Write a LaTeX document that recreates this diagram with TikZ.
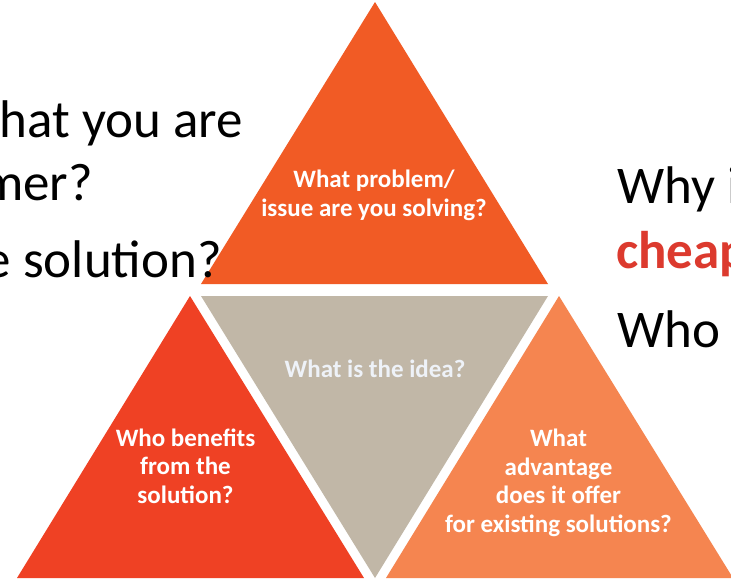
\documentclass[tikz,border=0pt]{standalone}
\usepackage{fontspec}
\setmainfont{Carlito}
\definecolor{topc}{RGB}{241,91,37}
\definecolor{leftc}{RGB}{239,65,36}
\definecolor{midc}{RGB}{193,183,167}
\definecolor{rightc}{RGB}{245,133,80}
\definecolor{redtxt}{RGB}{220,58,46}
\definecolor{idea}{RGB}{238,242,248}
\begin{document}
\begin{tikzpicture}[x=1pt,y=-1pt,
  lbl/.style={text=white,font=\bfseries\fontsize{25}{28.5}\selectfont,align=center,inner sep=0pt},
  big/.style={font=\fontsize{53}{60}\selectfont,inner sep=0pt}]
\useasboundingbox (0,0) rectangle (731,584);
\clip (0,0) rectangle (731,584);
\fill[white] (0,0) rectangle (731,584);
% triangles
\coordinate (tA) at (375,2);
\coordinate (tB) at (548,284);
\coordinate (tC) at (201,284);
\fill[topc] (tA) -- (tB) -- (tC) -- cycle;
\coordinate (mA) at (201,296);
\coordinate (mB) at (548,296);
\coordinate (mC) at (375,578);
\fill[midc] (mA) -- (mB) -- (mC) -- cycle;
\coordinate (lA) at (190,296);
\coordinate (lB) at (364,578);
\coordinate (lC) at (17,578);
\fill[leftc] (lA) -- (lB) -- (lC) -- cycle;
\coordinate (rA) at (559,296);
\coordinate (rB) at (733,578);
\coordinate (rC) at (386,578);
\fill[rightc] (rA) -- (rB) -- (rC) -- cycle;
% triangle labels (base = baseline of last line)
\node[lbl,anchor=base] (ttop) at (374,216) {What problem/\\issue are you solving?};
\node[lbl,anchor=base,text=idea] (tmid) at (375,377) {What is the idea?};
\node[lbl,anchor=base] (tleft) at (185.5,503) {Who benefits\\from the\\solution?};
\node[lbl,anchor=base] (tright) at (558.5,532) {What\\advantage\\does it offer\\for existing solutions?};
% side texts
\node[big,anchor=base east] (l1) at (243,137) {hat you are};
\node[big,anchor=base east] (l2) at (93,200) {mer?};
\node[big,anchor=base east] (l3) at (222,277) {e solution?};
\node[big,anchor=base west] (r1) at (617,203) {Why i};
\node[big,anchor=base west,text=redtxt,font=\bfseries\fontsize{53}{60}\selectfont] (r2) at (616,268) {cheap};
\node[big,anchor=base west] (r3) at (617,347) {Who};
\end{tikzpicture}
\end{document}
